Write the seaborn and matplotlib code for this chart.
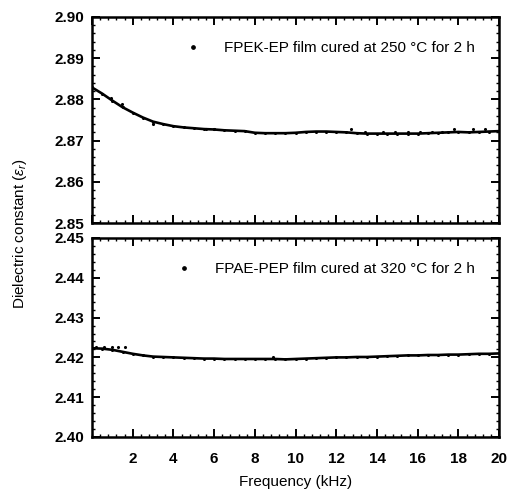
import numpy as np
import pandas as pd
import matplotlib
matplotlib.use("Agg")
import matplotlib.pyplot as plt
from matplotlib.ticker import MultipleLocator, FormatStrFormatter
from matplotlib.lines import Line2D
import seaborn as sns

# Frequency grid (kHz)
freq = [0.0, 0.5, 1.0, 1.5, 2.0, 2.5, 3.0, 3.5, 4.0, 4.5, 5.0, 5.5, 6.0, 6.5,
        7.0, 7.5, 8.0, 8.5, 9.0, 9.5, 10.0, 10.5, 11.0, 11.5, 12.0, 12.5,
        13.0, 13.5, 14.0, 14.5, 15.0, 15.5, 16.0, 16.5, 17.0, 17.5, 18.0,
        18.5, 19.0, 19.5, 20.0]

# FPEK-EP film cured at 250 C for 2 h
eps_fpek = [2.8829, 2.8814, 2.8797, 2.8781, 2.8768, 2.8756, 2.8746, 2.8740,
            2.8735, 2.8732, 2.8730, 2.8728, 2.8727, 2.8725, 2.8724, 2.8723,
            2.8719, 2.8718, 2.8718, 2.8718, 2.8719, 2.8721, 2.8722, 2.8722,
            2.8721, 2.8720, 2.8718, 2.8717, 2.8717, 2.8717, 2.8717, 2.8717,
            2.8717, 2.8718, 2.8719, 2.8720, 2.8721, 2.8720, 2.8721, 2.8722,
            2.8723]

# FPAE-PEP film cured at 320 C for 2 h
eps_fpae = [2.4223, 2.4222, 2.4219, 2.4214, 2.4209, 2.4205, 2.4202, 2.4201,
            2.4200, 2.4199, 2.4198, 2.4197, 2.4197, 2.4196, 2.4196, 2.4196,
            2.4196, 2.4196, 2.4196, 2.4195, 2.4196, 2.4197, 2.4198, 2.4199,
            2.4200, 2.4200, 2.4201, 2.4201, 2.4202, 2.4203, 2.4204, 2.4205,
            2.4205, 2.4206, 2.4206, 2.4207, 2.4207, 2.4208, 2.4209, 2.4209,
            2.4210]

# Scattered readings lying off the main trace
fpek_extra_f = [0.95, 1.45, 3.0, 5.6, 6.0, 12.7, 13.4, 14.3, 14.9, 15.5,
                16.1, 16.7, 17.2, 17.8, 18.7, 19.3]
fpek_extra_e = [2.8804, 2.8788, 2.8740, 2.8729, 2.8729, 2.8729, 2.8721,
                2.8721, 2.8721, 2.8721, 2.8721, 2.8721, 2.8721, 2.8729,
                2.8729, 2.8729]
fpae_extra_f = [0.2, 0.6, 1.0, 1.3, 1.6, 8.9]
fpae_extra_e = [2.4225, 2.4225, 2.4225, 2.4225, 2.4225, 2.4201]

labels = ["FPEK-EP film cured at 250 \u00b0C for 2 h",
          "FPAE-PEP film cured at 320 \u00b0C for 2 h"]

sns.set_theme(style="ticks")
plt.rcParams["font.family"] = ["Liberation Sans", "DejaVu Sans"]
plt.rcParams["mathtext.fontset"] = "custom"
plt.rcParams["mathtext.rm"] = "Liberation Sans"
plt.rcParams["mathtext.it"] = "Liberation Sans:italic"
plt.rcParams["text.color"] = "black"
plt.rcParams["axes.labelcolor"] = "black"
plt.rcParams["xtick.color"] = "black"
plt.rcParams["ytick.color"] = "black"

fig = plt.figure(figsize=(5.07, 4.91), dpi=100)
ax_top = fig.add_axes([0.1815, 0.5458, 0.8030, 0.4196])
ax_bot = fig.add_axes([0.1815, 0.1100, 0.8030, 0.4053])

df_top = pd.DataFrame({"f": freq, "e": eps_fpek})
df_bot = pd.DataFrame({"f": freq, "e": eps_fpae})
ex_top = pd.DataFrame({"f": fpek_extra_f, "e": fpek_extra_e})
ex_bot = pd.DataFrame({"f": fpae_extra_f, "e": fpae_extra_e})

panels = [
    (ax_top, df_top, ex_top, (2.85, 2.90), labels[0]),
    (ax_bot, df_bot, ex_bot, (2.40, 2.45), labels[1]),
]

for ax, df, ex, ylim, lab in panels:
    sns.lineplot(data=df, x="f", y="e", ax=ax, color="black", linewidth=1.9,
                 marker="o", markersize=2.2, markeredgewidth=0)
    sns.scatterplot(data=ex, x="f", y="e", ax=ax, color="black", s=5,
                    linewidth=0)
    ax.set_xlim(0, 20)
    ax.set_ylim(*ylim)
    ax.set_xlabel("")
    ax.set_ylabel("")
    ax.xaxis.set_major_locator(MultipleLocator(2))
    ax.xaxis.set_minor_locator(MultipleLocator(0.4))
    ax.yaxis.set_major_locator(MultipleLocator(0.01))
    ax.yaxis.set_minor_locator(MultipleLocator(0.002))
    ax.yaxis.set_major_formatter(FormatStrFormatter("%.2f"))
    ax.tick_params(which="both", direction="in", top=True, right=True,
                   colors="black")
    ax.tick_params(which="major", length=5.5, width=1.4, labelsize=11)
    ax.tick_params(which="minor", length=2, width=1.0)
    ax.tick_params(axis="y", which="major", pad=5.5)
    for s in ax.spines.values():
        s.set_linewidth(1.8)
        s.set_color("black")
    for t in ax.get_yticklabels():
        t.set_fontweight("bold")
    handle = Line2D([], [], color="black", marker="o", markersize=2.4,
                    linestyle="none")
    ax.legend([handle], [lab], loc="upper right", frameon=False,
              fontsize=11, handletextpad=1.5, borderaxespad=1.2,
              handlelength=1.0, labelcolor="black")

ax_top.tick_params(labelbottom=False)
ax_bot.set_xticks(np.arange(2, 21, 2))
ax_bot.tick_params(axis="x", which="major", pad=11)
for t in ax_bot.get_xticklabels():
    t.set_fontweight("bold")
ax_bot.set_xlabel("Frequency (kHz)", fontsize=11, labelpad=6)
fig.text(0.04, 0.525, "Dielectric constant ($\\epsilon_r$)", rotation=90,
         ha="center", va="center", fontsize=11)

fig.savefig("out.png", dpi=100, facecolor="white")
